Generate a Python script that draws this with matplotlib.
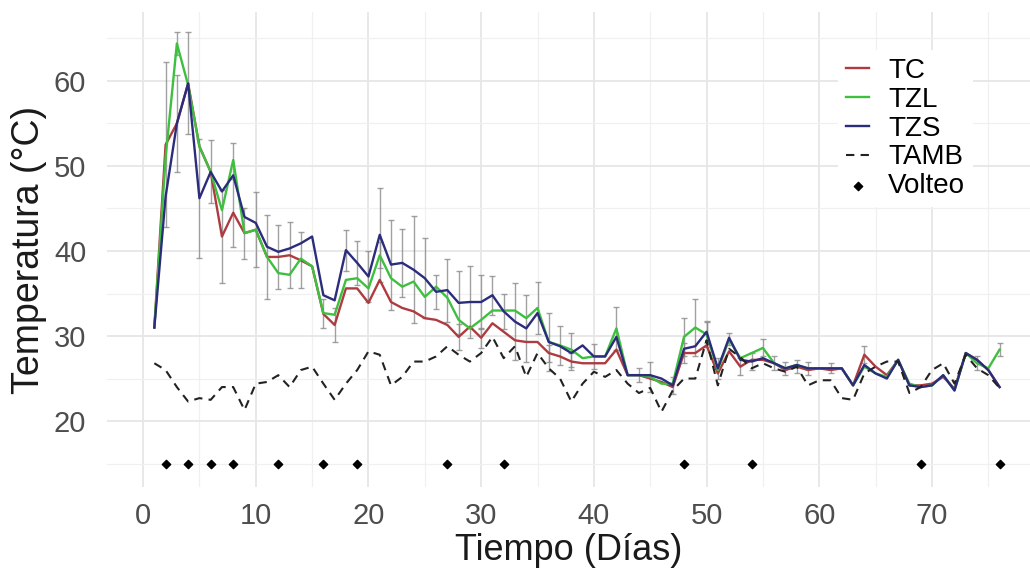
import numpy as np
import matplotlib
matplotlib.use('Agg')
import matplotlib.pyplot as plt
from matplotlib.ticker import MultipleLocator

plt.rcParams['font.family'] = ['Liberation Sans', 'DejaVu Sans']

days = list(range(1, 77))

tc = [31, 52.5, 55, 59.7, 52.3, 49.3, 41.7, 44.5, 42.1, 42.5,
      39.3, 39.3, 39.5, 38.9, 38.2, 32.6, 31.3, 35.6, 35.6, 33.9,
      36.6, 34, 33.3, 32.9, 32.1, 31.9, 31.3, 29.9, 31.1, 29.8,
      31.5, 30.5, 29.5, 29.3, 29.3, 28, 27.6, 27, 26.8, 26.8,
      26.8, 28.4, 25.4, 25.4, 25, 24.6, 24, 28, 28, 28.9,
      25.6, 28.2, 26.4, 27.2, 27.2, 26.8, 26, 26.4, 26, 26.2,
      26, 26.2, 24.2, 27.8, 26.4, 25.4, 27.2, 24.2, 24.2, 24.4,
      25.2, 23.8, 28, 27.2, 26, 24]

tzl = [31, 51, 64.4, 59.5, 52.3, 49.3, 44.8, 50.7, 42.1, 42.5,
       39.3, 37.4, 37.2, 39.1, 38.2, 32.7, 32.5, 36.6, 36.8, 35.6,
       39.5, 36.8, 35.8, 36.4, 34.6, 35.8, 34.5, 31.9, 30.9, 31.9,
       33, 33, 33, 32.1, 33.3, 29.3, 28.9, 28.4, 27.4, 27.6,
       27.6, 30.9, 25.4, 25.4, 25.2, 24.4, 24.4, 29.9, 31, 30.2,
       26, 29.6, 27.4, 28, 28.6, 26.8, 26.2, 26.6, 26.2, 26.2,
       26.2, 26.2, 24.2, 26.4, 25.6, 25.2, 27.2, 24.4, 24, 24.2,
       25.4, 23.6, 28, 26.8, 26.2, 28.4]

tzs = [31, 46.4, 55, 59.7, 46.2, 49.3, 47, 48.9, 44, 43.3,
       40.5, 39.9, 40.3, 40.9, 41.7, 34.8, 34.2, 40.1, 38.6, 37,
       41.9, 38.4, 38.6, 37.8, 36.8, 35.2, 35.4, 33.9, 34, 34,
       34.8, 32.9, 31.7, 30.9, 32.7, 29.3, 28.8, 28, 28.9, 27.6,
       27.6, 29.9, 25.4, 25.4, 25.4, 25, 24.2, 28.5, 28.8, 30.5,
       26.2, 29.8, 27.2, 27, 27.4, 26.8, 26.2, 26.6, 26.2, 26.2,
       26.2, 26.2, 24.2, 26.6, 25.6, 25, 27.2, 24.2, 24, 24.2,
       25.4, 23.6, 28, 27.2, 26, 24]

tamb = [26.8, 26, 24, 22.3, 22.7, 22.5, 24, 24, 21.3, 24.4,
        24.6, 25.4, 24, 26, 26.4, 24.4, 22.5, 24.4, 26, 28.2,
        27.8, 24.2, 25.2, 27, 27, 27.6, 28.8, 27.8, 27, 28,
        29.9, 27.4, 28.8, 25.2, 28, 26.2, 25, 22.3, 24.4, 25.8,
        25.2, 26, 24.4, 23.3, 23.9, 21.1, 23.6, 25, 25, 29.5,
        24.2, 28.5, 27.5, 26.2, 26.8, 26.2, 25.8, 26.4, 24.2, 24.8,
        24.8, 22.7, 22.5, 25.6, 26.4, 27, 27, 23.3, 24, 26,
        26.8, 24.4, 27.8, 26.2, 25.4, 23.9]

# error bars (day, half-width)
tc_err_days = [2, 3, 7, 8, 9, 10, 11, 12, 13, 14, 16, 17, 28, 30, 36, 38, 44, 48, 53, 56, 58, 64]
tc_err = [9.7, 5.7, 5.5, 4.0, 3.0, 4.4, 4.9, 3.8, 3.9, 3.3, 1.7, 2.0, 1.5, 1.2, 1.0, 1.0, 0.8, 1.2, 1.0, 0.8, 0.8, 1.0]
tzl_err_days = [3, 8, 21, 35, 37, 38, 42, 45, 48, 49, 50, 52, 55, 59, 74, 76]
tzl_err = [1.3, 2.0, 1.5, 3.1, 2.3, 2.0, 2.5, 1.8, 2.2, 3.4, 1.5, 0.7, 1.0, 0.8, 0.8, 0.8]
tzs_err_days = [4, 5, 6, 18, 19, 20, 21, 22, 23, 24, 25, 26, 27, 28, 29, 30, 31, 32, 33, 34, 36, 40, 47, 50, 51, 54, 57, 61]
tzs_err = [6.0, 7.0, 3.7, 2.4, 2.6, 3.0, 5.5, 5.3, 4.0, 6.3, 4.7, 2.0, 3.7, 3.7, 4.2, 3.2, 2.3, 2.1, 4.5, 3.9, 3.4, 1.5, 1.0, 1.3, 1.2, 1.0, 0.8, 0.6]

volteo_days = [2, 4, 6, 8, 12, 16, 19, 27, 32, 48, 54, 69, 76]
volteo_y = [15] * len(volteo_days)

fig = plt.figure(figsize=(10.30, 5.83), dpi=100)
ax = fig.add_axes([107 / 1030, 1 - 487 / 583, 1 - 107 / 1030, (487 - 12) / 583])

series = [('TC', tc, tc_err_days, tc_err, '#ad3b40'),
          ('TZL', tzl, tzl_err_days, tzl_err, '#3fbf3f'),
          ('TZS', tzs, tzs_err_days, tzs_err, '#2b2c7c')]

for name, vals, edays, errs, col in series:
    yv = [vals[d - 1] for d in edays]
    ax.errorbar(edays, yv, yerr=errs, fmt='none', ecolor='#8a8a8a', elinewidth=1,
                capsize=2, capthick=1, alpha=0.8, zorder=2)

for name, vals, edays, errs, col in series:
    ax.plot(days, vals, color=col, lw=1.7, label=name, zorder=3)

ax.plot(days, tamb, color='#222222', lw=1.5, ls=(0, (4, 3)), label='TAMB', zorder=3)
ax.scatter(volteo_days, volteo_y, marker='D', s=18, color='black', label='Volteo', zorder=4)

ax.set_xlim(-3.2, 78.7)
ax.set_ylim(12.25, 68.1)
ax.xaxis.set_major_locator(MultipleLocator(10))
ax.xaxis.set_minor_locator(MultipleLocator(5))
ax.yaxis.set_major_locator(MultipleLocator(10))
ax.yaxis.set_minor_locator(MultipleLocator(5))
ax.set_yticks([20, 30, 40, 50, 60])
ax.grid(which='major', color='#e6e6e6', lw=1.3)
ax.grid(which='minor', color='#f0f0f0', lw=0.9)
ax.set_axisbelow(True)
for s in ax.spines.values():
    s.set_visible(False)
ax.tick_params(which='both', length=0, labelsize=21, colors='#4d4d4d', pad=11)
ax.tick_params(axis='y', pad=15)

ax.set_xlabel('Tiempo (Días)', fontsize=26, color='#1a1a1a', labelpad=2)
ax.set_ylabel('Temperatura (°C)', fontsize=27, color='#1a1a1a', labelpad=5)

leg = ax.legend(loc='upper left', bbox_to_anchor=(0.777, 0.95), fontsize=20,
                frameon=True, facecolor='white', edgecolor='none', framealpha=1,
                handlelength=0.8, handletextpad=0.7, labelspacing=0.1,
                borderpad=0.3, markerscale=1.0)

fig.savefig('out.png', dpi=100)
